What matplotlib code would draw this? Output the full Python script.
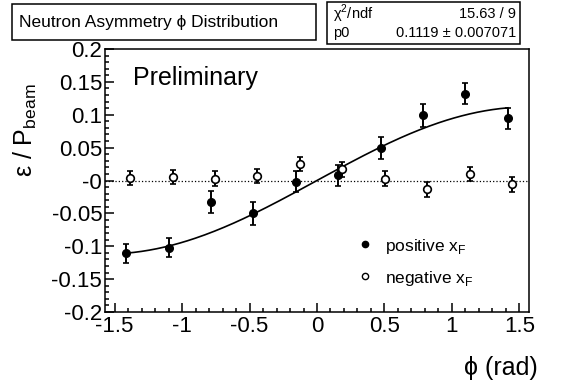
import numpy as np
import matplotlib
matplotlib.use("Agg")
import matplotlib.pyplot as plt
from matplotlib.patches import Rectangle
from matplotlib.lines import Line2D

plt.rcParams['font.family'] = ['Liberation Sans', 'DejaVu Sans']
plt.rcParams['mathtext.fontset'] = 'custom'
plt.rcParams['mathtext.rm'] = 'Liberation Sans'

# --- data: asymmetry per phi bin (10 bins over -pi/2..pi/2) ---
phi_pos = [-1.414, -1.100, -0.785, -0.471, -0.157, 0.157, 0.471, 0.785, 1.100, 1.414]
asym_pos = [-0.111, -0.102, -0.033, -0.050, -0.002, 0.008, 0.049, 0.099, 0.132, 0.095]
err_pos = [0.015, 0.015, 0.017, 0.017, 0.016, 0.016, 0.017, 0.017, 0.016, 0.016]

phi_neg = [-1.384, -1.070, -0.755, -0.441, -0.127, 0.187, 0.501, 0.815, 1.130, 1.444]
asym_neg = [0.004, 0.0055, 0.003, 0.0065, 0.025, 0.017, 0.003, -0.0135, 0.010, -0.006]
err_neg = [0.011, 0.011, 0.011, 0.011, 0.011, 0.011, 0.011, 0.011, 0.011, 0.011]

# fit result: p0 * sin(phi)
p0 = 0.1119
p0_err = 0.007071
chi2_ndf = "15.63 / 9"

x_ticks = [-1.5, -1.0, -0.5, 0.0, 0.5, 1.0, 1.5]
x_ticklabels = ["-1.5", "-1", "-0.5", "0", "0.5", "1", "1.5"]
y_ticks = [-0.2, -0.15, -0.1, -0.05, 0.0, 0.05, 0.1, 0.15, 0.2]
y_ticklabels = ["-0.2", "-0.15", "-0.1", "-0.05", "-0", "0.05", "0.1", "0.15", "0.2"]

# --- figure ---
fig = plt.figure(figsize=(5.72, 3.84), dpi=100)
ax = fig.add_axes([105 / 572, 72 / 384, 424 / 572, 263 / 384])

ax.axhline(0, color="black", linestyle=":", linewidth=0.9)

phi_fit = np.linspace(phi_pos[0], phi_pos[-1], 200)
ax.plot(phi_fit, p0 * np.sin(phi_fit), color="black", linewidth=1.2)

ax.errorbar(phi_pos, asym_pos, yerr=err_pos, fmt="o", color="black",
            markersize=5.5, elinewidth=1.4, capsize=2, capthick=1.2)
ax.errorbar(phi_neg, asym_neg, yerr=err_neg, fmt="o", color="black",
            markerfacecolor="white", markeredgewidth=1.2,
            markersize=5.5, elinewidth=1.4, capsize=2, capthick=1.2)

ax.set_xlim(-np.pi / 2, np.pi / 2)
ax.set_ylim(-0.2, 0.2)
ax.set_xticks(x_ticks)
ax.set_xticklabels(x_ticklabels)
ax.set_yticks(y_ticks)
ax.set_yticklabels(y_ticklabels)
ax.set_xticks(np.arange(-1.5, 1.51, 0.1), minor=True)
ax.set_yticks(np.arange(-0.2, 0.201, 0.01), minor=True)
ax.tick_params(which="both", direction="in", top=False, right=False,
               labelsize=16, width=1.1)
ax.tick_params(axis="y", which="major", pad=2)
ax.tick_params(axis="x", which="major", pad=3)
ax.tick_params(which="major", length=6.5)
ax.tick_params(which="minor", length=3.2)
for s in ax.spines.values():
    s.set_linewidth(1.1)

ax.text(0.066, 0.89, "Preliminary", transform=ax.transAxes, fontsize=18,
        ha="left", va="center")

# legend
handles = [Line2D([], [], marker="o", linestyle="none", color="black", markersize=4.5),
           Line2D([], [], marker="o", linestyle="none", color="black",
                  markerfacecolor="white", markersize=4.5, markeredgewidth=1.0)]
ax.legend(handles, ["positive x$_{\\mathrm{F}}$", "negative x$_{\\mathrm{F}}$"],
          loc="center left", bbox_to_anchor=(0.555, 0.19), frameon=False,
          fontsize=12.5, handlelength=1.0, handletextpad=0.7, labelspacing=0.75)

# axis titles
fig.text(25 / 572, 1 - 130 / 384, "ε / P$_{\\mathrm{beam}}$", rotation=90,
         ha="center", va="center", fontsize=18)
fig.text(538 / 572, 1 - 368 / 384, "ϕ (rad)", ha="right", va="center", fontsize=18)

# title box
fig.patches.append(Rectangle((12 / 572, 1 - 40 / 384), 304 / 572, 36 / 384,
                             transform=fig.transFigure, fill=False,
                             edgecolor="black", linewidth=1.1))
fig.text(19 / 572, 1 - 22 / 384, "Neutron Asymmetry ϕ Distribution",
         ha="left", va="center", fontsize=12.5)

# fit statistics box
fig.patches.append(Rectangle((327 / 572, 1 - 44 / 384), 193 / 572, 42 / 384,
                             transform=fig.transFigure, fill=False,
                             edgecolor="black", linewidth=1.1))
fig.text(333 / 572, 1 - 14 / 384, "χ$^{2}$/ndf", ha="left", va="center", fontsize=10.5)
fig.text(516 / 572, 1 - 14 / 384, chi2_ndf, ha="right", va="center", fontsize=10.5)
fig.text(333 / 572, 1 - 33 / 384, "p0", ha="left", va="center", fontsize=10.5)
fig.text(516 / 572, 1 - 33 / 384, f"{p0:.4f} ± {p0_err:.6f}",
         ha="right", va="center", fontsize=10.5)

fig.savefig("out.png", dpi=100)
